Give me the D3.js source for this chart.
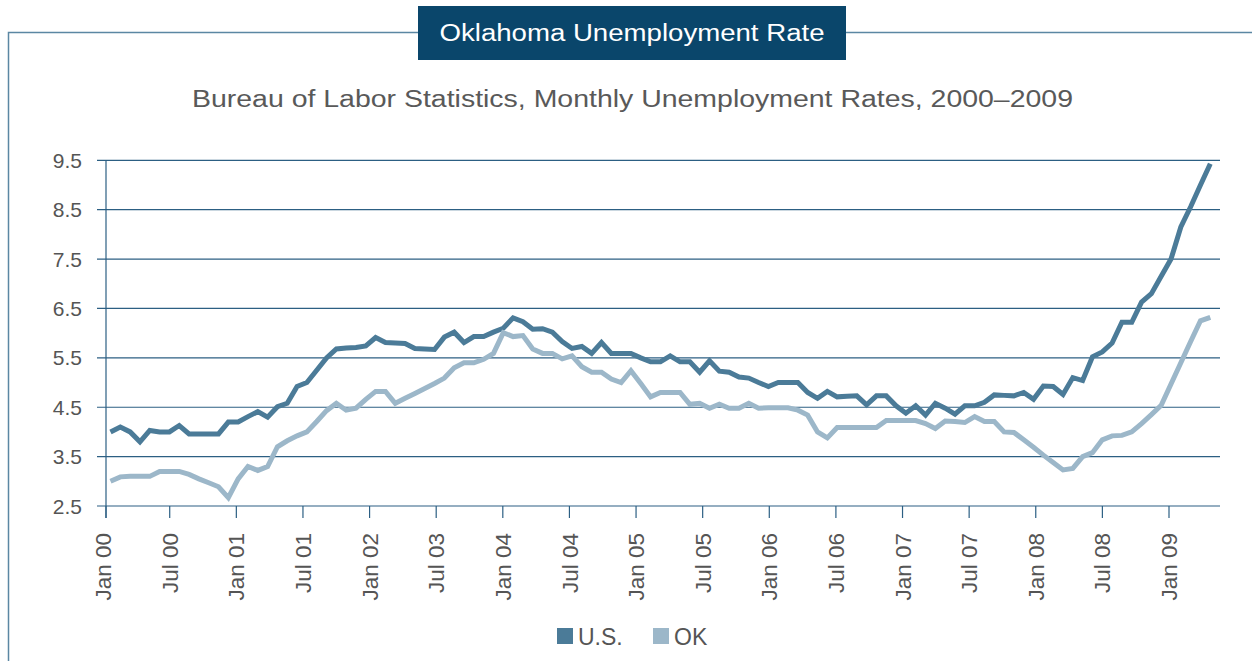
<!DOCTYPE html>
<html>
<head>
<meta charset="utf-8">
<script src="https://cdn.jsdelivr.net/npm/d3@7"></script>
<style>
  body { margin: 0; background: #fff; }
  text { font-family: "Liberation Sans", Arial, Helvetica, sans-serif; }
</style>
</head>
<body>
<div id="chart"></div>
<script>
// Monthly unemployment rates, Jan 2000 - May 2009
const usRate = [
  4.0, 4.1, 4.0, 3.8, 4.03, 4.0, 4.0, 4.13, 3.96, 3.96, 3.96, 3.96,
  4.2, 4.2, 4.31, 4.41, 4.3, 4.51, 4.58, 4.92, 5.0, 5.25, 5.5, 5.68,
  5.7, 5.71, 5.74, 5.91, 5.81, 5.8, 5.79, 5.69, 5.68, 5.67, 5.92, 6.02,
  5.81, 5.93, 5.93, 6.02, 6.1, 6.31, 6.23, 6.08, 6.09, 6.02, 5.83, 5.69,
  5.73, 5.59, 5.81, 5.59, 5.59, 5.59, 5.5, 5.42, 5.42, 5.54, 5.42, 5.42,
  5.21, 5.44, 5.23, 5.21, 5.11, 5.09, 5.0, 4.92, 5.0, 5.0, 5.0, 4.8,
  4.68, 4.82, 4.71, 4.72, 4.73, 4.55, 4.73, 4.73, 4.53, 4.38, 4.53, 4.34,
  4.58, 4.48, 4.36, 4.53, 4.53, 4.6, 4.75, 4.74, 4.73, 4.8, 4.66, 4.93,
  4.92, 4.76, 5.1, 5.04, 5.52, 5.62, 5.8, 6.22, 6.22, 6.63, 6.8, 7.15,
  7.5, 8.15, 8.56, 9.0, 9.43
];
const okRate = [
  3.0, 3.09, 3.1, 3.1, 3.1, 3.2, 3.2, 3.2, 3.14, 3.05, 2.97, 2.89,
  2.67, 3.05, 3.3, 3.22, 3.3, 3.7, 3.82, 3.92, 4.0, 4.21, 4.43, 4.58,
  4.44, 4.48, 4.66, 4.82, 4.82, 4.58, 4.68, 4.78, 4.88, 4.98, 5.09, 5.3,
  5.4, 5.4, 5.47, 5.59, 6.01, 5.93, 5.95, 5.68, 5.59, 5.59, 5.48, 5.54,
  5.32, 5.21, 5.21, 5.07, 5.0, 5.24, 4.98, 4.71, 4.8, 4.8, 4.8, 4.56,
  4.58, 4.48, 4.56, 4.48, 4.48, 4.58, 4.48, 4.49, 4.49, 4.49, 4.44, 4.34,
  4.0, 3.88, 4.09, 4.09, 4.09, 4.09, 4.09, 4.23, 4.23, 4.23, 4.23, 4.17,
  4.07, 4.22, 4.21, 4.19, 4.31, 4.21, 4.21, 4.0, 3.99, 3.84, 3.69, 3.53,
  3.38, 3.23, 3.26, 3.5, 3.58, 3.84, 3.92, 3.93, 4.0, 4.17, 4.35, 4.54,
  4.97, 5.4, 5.83, 6.25, 6.32
];
const tickLabels = [
  "Jan 00", "Jul 00", "Jan 01", "Jul 01", "Jan 02", "Jul 03", "Jan 04",
  "Jul 04", "Jan 05", "Jul 05", "Jan 06", "Jul 06", "Jan 07", "Jul 07",
  "Jan 08", "Jul 08", "Jan 09"
];
const yTicks = [2.5, 3.5, 4.5, 5.5, 6.5, 7.5, 8.5, 9.5];
const seriesNames = ["U.S.", "OK"];

const width = 1252, height = 661;
const colors = { "U.S.": "#4b7b98", "OK": "#9cb7c9" };
const gridColor = "#2c5f83";
const textColor = "#555555";

const svg = d3.select("#chart")
  .append("svg")
  .attr("width", width)
  .attr("height", height);

// frame around the chart
svg.append("path")
  .attr("d", "M8.5,661 V32.5 H1252")
  .attr("fill", "none")
  .attr("stroke", "#5b87a3")
  .attr("stroke-width", 1.5);

// title box
svg.append("rect")
  .attr("x", 418).attr("y", 6)
  .attr("width", 428).attr("height", 54)
  .attr("fill", "#0a466b");

svg.append("text")
  .attr("x", 632).attr("y", 41)
  .attr("text-anchor", "middle")
  .attr("fill", "#fff")
  .attr("font-size", 23)
  .attr("textLength", 385)
  .attr("lengthAdjust", "spacingAndGlyphs")
  .text("Oklahoma Unemployment Rate");

svg.append("text")
  .attr("x", 632.5).attr("y", 107)
  .attr("text-anchor", "middle")
  .attr("fill", "#595959")
  .attr("font-size", 23)
  .attr("textLength", 881)
  .attr("lengthAdjust", "spacingAndGlyphs")
  .text("Bureau of Labor Statistics, Monthly Unemployment Rates, 2000\u20132009");

// scales
const axisX = 106, plotRight = 1220;
const y = d3.scaleLinear().domain([2.5, 9.5]).range([506, 160.3]);
const x = d3.scaleLinear().domain([0, usRate.length - 1]).range([110.5, 1210.3]);
const xLab = d3.scalePoint().domain(tickLabels).range([103.1, 1169]);

// horizontal gridlines
svg.append("g")
  .selectAll("line")
  .data(yTicks)
  .join("line")
  .attr("x1", 97).attr("x2", plotRight)
  .attr("y1", d => y(d)).attr("y2", d => y(d))
  .attr("stroke", gridColor)
  .attr("stroke-width", 1.2);

svg.append("g")
  .selectAll("text")
  .data(yTicks)
  .join("text")
  .attr("x", 82)
  .attr("y", d => y(d))
  .attr("dy", "0.36em")
  .attr("text-anchor", "end")
  .attr("fill", textColor)
  .attr("font-size", 21)
  .text(d => d.toFixed(1));

// y axis line
svg.append("line")
  .attr("x1", axisX).attr("x2", axisX)
  .attr("y1", y(9.5)).attr("y2", 518)
  .attr("stroke", gridColor)
  .attr("stroke-width", 1.2);

// x ticks and rotated labels
const xTicks = svg.append("g");
xTicks.selectAll("line")
  .data(tickLabels)
  .join("line")
  .attr("x1", d => Math.max(axisX, xLab(d)))
  .attr("x2", d => Math.max(axisX, xLab(d)))
  .attr("y1", y(2.5)).attr("y2", 518)
  .attr("stroke", gridColor)
  .attr("stroke-width", 1.2);

xTicks.selectAll("text")
  .data(tickLabels)
  .join("text")
  .attr("transform", d => `translate(${xLab(d)},533) rotate(-90)`)
  .attr("dy", "0.36em")
  .attr("text-anchor", "end")
  .attr("fill", textColor)
  .attr("font-size", 22.5)
  .text(d => d);

// lines
const line = d3.line()
  .x((d, i) => x(i))
  .y(d => y(d));

[["U.S.", usRate], ["OK", okRate]].forEach(([name, values]) => {
  svg.append("path")
    .datum(values)
    .attr("d", line)
    .attr("fill", "none")
    .attr("stroke", colors[name])
    .attr("stroke-width", 5)
    .attr("stroke-linejoin", "miter")
    .attr("stroke-miterlimit", 2);
});

// legend
const legendX = [557, 653];
const legend = svg.append("g")
  .selectAll("g")
  .data(seriesNames)
  .join("g")
  .attr("transform", (d, i) => `translate(${legendX[i]},628)`);

legend.append("rect")
  .attr("width", 16).attr("height", 16)
  .attr("fill", d => colors[d]);

legend.append("text")
  .attr("x", 21).attr("y", 17)
  .attr("fill", textColor)
  .attr("font-size", 23)
  .text(d => d);
</script>
</body>
</html>
